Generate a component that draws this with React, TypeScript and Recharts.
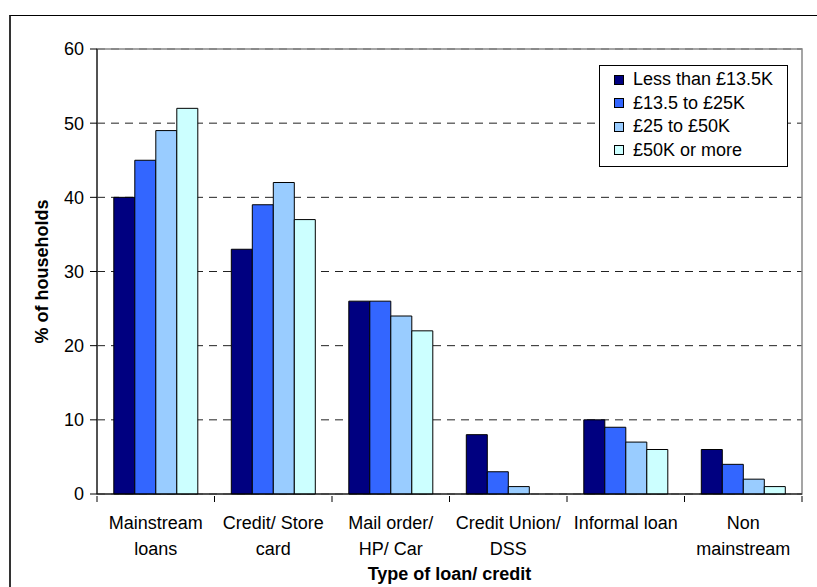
import React from "react";
import {
  BarChart,
  Bar,
  XAxis,
  YAxis,
  CartesianGrid,
  Legend,
  ReferenceArea,
} from "recharts";

const categories = [
  "Mainstream\nloans",
  "Credit/ Store\ncard",
  "Mail order/\nHP/ Car",
  "Credit Union/\nDSS",
  "Informal loan",
  "Non\nmainstream",
];
const seriesNames = ["Less than £13.5K", "£13.5 to £25K", "£25 to £50K", "£50K or more"];
const lessThan135 = [40, 33, 26, 8, 10, 6];
const from135to25 = [45, 39, 26, 3, 9, 4];
const from25to50 = [49, 42, 24, 1, 7, 2];
const over50 = [52, 37, 22, 0, 6, 1];
const yTicks = [0, 10, 20, 30, 40, 50, 60];
const colors = ["#000080", "#3366FF", "#99CCFF", "#CCFFFF"];

const seriesValues = [lessThan135, from135to25, from25to50, over50];
const keys = ["s0", "s1", "s2", "s3"];

const data = categories.map((c, i) => {
  const row: any = { name: c };
  keys.forEach((k, j) => (row[k] = seriesValues[j][i]));
  return row;
});

const FONT = "'Liberation Sans', Arial, sans-serif";

const XTick = (props: any) => {
  const { x, y, payload, width } = props;
  const band = (width || 705) / categories.length;
  const lines = String(payload.value).split("\n");
  return (
    <g>
      <line x1={x + band / 2} x2={x + band / 2} y1={y} y2={y + 6} stroke="#000" />
      {payload.index === 0 && (
        <line x1={x - band / 2} x2={x - band / 2} y1={y} y2={y + 6} stroke="#000" />
      )}
      <text x={x} y={y} textAnchor="middle" fontFamily={FONT} fontSize={18} fill="#000">
        {lines.map((l, i) => (
          <tspan key={i} x={x} y={y + 33 + i * 26}>
            {l}
          </tspan>
        ))}
      </text>
    </g>
  );
};

const LegendBox = () => (
  <div
    style={{
      border: "1px solid #000",
      background: "#fff",
      width: 189,
      height: 102,
      boxSizing: "border-box",
      padding: "2px 0 0 14px",
      fontFamily: FONT,
      fontSize: 18,
      color: "#000",
    }}
  >
    {seriesNames.map((n, i) => (
      <div key={n} style={{ display: "flex", alignItems: "center", height: 23.5, whiteSpace: "nowrap" }}>
        <span
          style={{
            display: "inline-block",
            width: 8,
            height: 8,
            background: colors[i],
            border: "1px solid #000",
            marginRight: 9,
          }}
        />
        {n}
      </div>
    ))}
  </div>
);

export default function App() {
  return (
    <div
      style={{
        position: "fixed",
        left: 0,
        top: 0,
        width: 817,
        height: 587,
        overflow: "hidden",
        background: "#fff",
      }}
    >
      <div
        style={{
          position: "absolute",
          left: 9,
          top: 15,
          width: 900,
          height: 700,
          borderTop: "1px solid #000",
          borderLeft: "2px solid #333",
        }}
      />
      <div style={{ position: "absolute", left: 0, top: 0 }}>
        <BarChart
          width={817}
          height={587}
          data={data}
          margin={{ top: 49, right: 15, bottom: 0, left: 10 }}
          barCategoryGap="14.3%"
          barGap={0}
        >
          <CartesianGrid vertical={false} stroke="#222" strokeDasharray="8 6" />
          <ReferenceArea y1={0} y2={60} fill="none" stroke="#888" strokeWidth={1.5} ifOverflow="visible" />
          <XAxis
            dataKey="name"
            interval={0}
            height={93}
            tickSize={0}
            tickLine={false}
            axisLine={{ stroke: "#000" }}
            tick={<XTick />}
            label={{
              content: (p: any) => {
                const vb = p.viewBox;
                return (
                  <text
                    x={vb.x + vb.width / 2}
                    y={vb.y + 86}
                    textAnchor="middle"
                    fontFamily={FONT}
                    fontSize={18}
                    fontWeight="bold"
                    fill="#000"
                  >
                    Type of loan/ credit
                  </text>
                );
              },
            }}
          />
          <YAxis
            domain={[0, 60]}
            ticks={yTicks}
            width={87}
            tickSize={7}
            tickMargin={6}
            axisLine={{ stroke: "#000" }}
            tickLine={{ stroke: "#000" }}
            tick={{ fontFamily: FONT, fontSize: 18, fill: "#000" }}
            label={{
              content: (p: any) => {
                const vb = p.viewBox;
                const cx = vb.x + 32;
                const cy = vb.y + vb.height / 2;
                return (
                  <text
                    x={cx}
                    y={cy}
                    transform={`rotate(-90 ${cx} ${cy})`}
                    textAnchor="middle"
                    dominantBaseline="central"
                    fontFamily={FONT}
                    fontSize={18}
                    fontWeight="bold"
                    fill="#000"
                  >
                    % of households
                  </text>
                );
              },
            }}
          />
          <Legend
            layout="vertical"
            align="center"
            verticalAlign="middle"
            wrapperStyle={{ position: "absolute", left: 599, top: 65, width: 189 }}
            content={() => <LegendBox />}
          />
          {keys.map((k, i) => (
            <Bar
              key={k}
              dataKey={k}
              name={seriesNames[i]}
              fill={colors[i]}
              stroke="#000"
              strokeWidth={1}
              isAnimationActive={false}
            />
          ))}
        </BarChart>
      </div>
    </div>
  );
}
